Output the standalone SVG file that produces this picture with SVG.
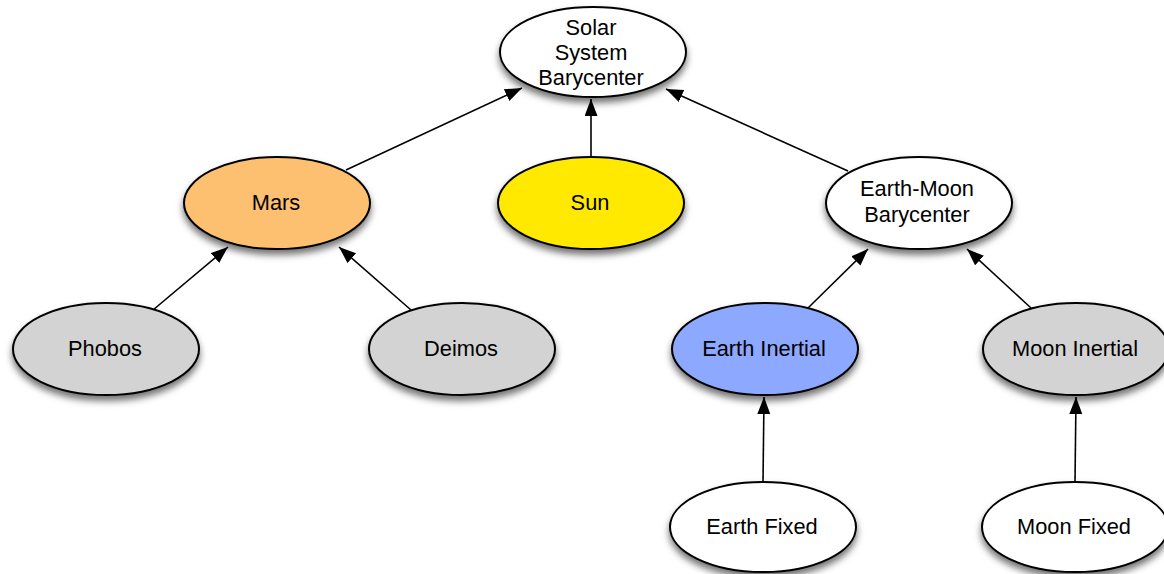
<svg xmlns="http://www.w3.org/2000/svg" width="1164" height="574" viewBox="0 0 1164 574">
  <defs>
    <filter id="shadow" x="-20%" y="-20%" width="140%" height="160%">
      <feDropShadow dx="0" dy="5" stdDeviation="3.5" flood-color="#000" flood-opacity="0.55"/>
    </filter>
    <marker id="arrow" markerUnits="userSpaceOnUse" markerWidth="18" markerHeight="14" refX="17" refY="6.5" orient="auto">
      <path d="M0,0 L17,6.5 L0,13 Z" fill="#000"/>
    </marker>
    <style>
      .node ellipse { stroke: #000; stroke-width: 2; filter: url(#shadow); }
      .node text { font-family: "Liberation Sans", Arial, Helvetica, sans-serif; font-size: 21.8px; fill: #000; text-anchor: middle; }
      .white { fill: #ffffff; }
      .gray { fill: #d3d3d3; }
      .orange { fill: #fdbf6f; }
      .yellow { fill: #ffe900; }
      .blue { fill: #8da9ff; }
      #edges line { stroke: #000; stroke-width: 1.6; marker-end: url(#arrow); }
    </style>
  </defs>

  <!-- connectors: child frame points to its parent frame -->
  <g id="edges">
    <line x1="346" y1="170" x2="522" y2="88"/>
    <line x1="591" y1="157" x2="591" y2="99"/>
    <line x1="848" y1="171" x2="666" y2="89"/>
    <line x1="153" y1="310" x2="228" y2="247"/>
    <line x1="411" y1="310" x2="339" y2="247"/>
    <line x1="808" y1="308" x2="868" y2="249"/>
    <line x1="1031" y1="308" x2="967" y2="249"/>
    <line x1="763" y1="482" x2="764" y2="397"/>
    <line x1="1075" y1="482" x2="1076" y2="397"/>
  </g>

  <g id="ssb" class="node">
    <ellipse class="white" cx="593" cy="52" rx="93" ry="45"/>
    <text x="591" y="35">Solar</text>
    <text x="591" y="60">System</text>
    <text x="591" y="85">Barycenter</text>
  </g>

  <g id="mars" class="node">
    <ellipse class="orange" cx="277" cy="203" rx="93" ry="46"/>
    <text x="276" y="210">Mars</text>
  </g>

  <g id="sun" class="node">
    <ellipse class="yellow" cx="591" cy="203" rx="93" ry="46"/>
    <text x="590" y="210">Sun</text>
  </g>

  <g id="emb" class="node">
    <ellipse class="white" cx="919" cy="203" rx="93" ry="46"/>
    <text x="917" y="196">Earth-Moon</text>
    <text x="917" y="222">Barycenter</text>
  </g>

  <g id="phobos" class="node">
    <ellipse class="gray" cx="106" cy="349" rx="93" ry="46"/>
    <text x="105" y="356">Phobos</text>
  </g>

  <g id="deimos" class="node">
    <ellipse class="gray" cx="462" cy="349" rx="93" ry="46"/>
    <text x="461" y="356">Deimos</text>
  </g>

  <g id="earth-inertial" class="node">
    <ellipse class="blue" cx="765" cy="349" rx="93" ry="46"/>
    <text x="764" y="356">Earth Inertial</text>
  </g>

  <g id="moon-inertial" class="node">
    <ellipse class="gray" cx="1076" cy="349" rx="93" ry="46"/>
    <text x="1075" y="356">Moon Inertial</text>
  </g>

  <g id="earth-fixed" class="node">
    <ellipse class="white" cx="763" cy="527" rx="93" ry="45"/>
    <text x="762" y="534">Earth Fixed</text>
  </g>

  <g id="moon-fixed" class="node">
    <ellipse class="white" cx="1075" cy="527" rx="93" ry="45"/>
    <text x="1074" y="534">Moon Fixed</text>
  </g>
</svg>
